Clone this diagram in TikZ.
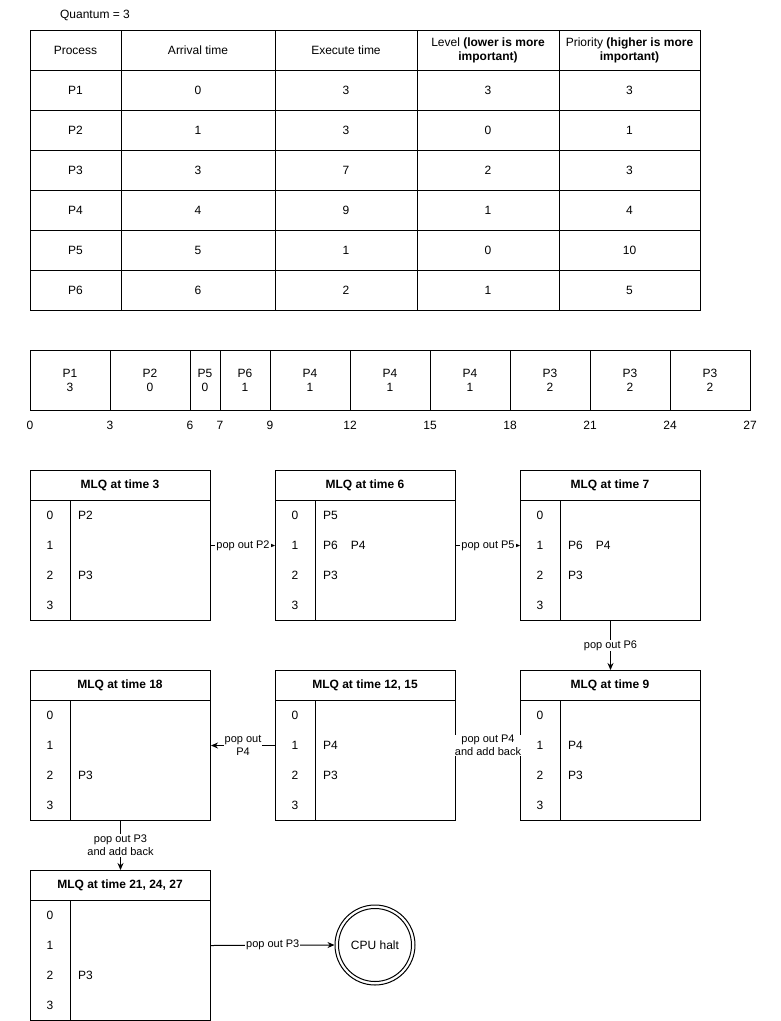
\documentclass[tikz,border=0pt]{standalone}
\usepackage{fontspec}
\setmainfont{Liberation Sans}
\usetikzlibrary{arrows.meta,calc}
\newcommand\mlqbox[8]{%
  \node[box, minimum width=180pt, minimum height=150pt, anchor=north west] (#1) at (#2,#3) {};
  \node[txt, font=\fontsize{12}{14}\selectfont\bfseries] (#1-t) at (#2+90,#3+15) {#4};
  \draw[ln] (#2,#3+30) -- (#2+180,#3+30);
  \draw[ln] (#2+40,#3+30) -- (#2+40,#3+150);
  \node[txt] (#1-i0) at (#2+20,#3+45) {0};
  \node[txt] (#1-i1) at (#2+20,#3+75) {1};
  \node[txt] (#1-i2) at (#2+20,#3+105) {2};
  \node[txt] (#1-i3) at (#2+20,#3+135) {3};
  \node[txt, anchor=west] (#1-c0) at (#2+48,#3+45) {#5};
  \node[txt, anchor=west] (#1-c1) at (#2+48,#3+75) {#6};
  \node[txt, anchor=west] (#1-c2) at (#2+48,#3+105) {#7};
  \node[txt, anchor=west] (#1-c3) at (#2+48,#3+135) {#8};
}
\begin{document}
\begin{tikzpicture}[x=1pt,y=-1pt,
  txt/.style={font=\fontsize{12}{14}\selectfont, inner sep=0pt, align=center},
  ln/.style={line width=1pt},
  box/.style={draw, line width=1pt, inner sep=0pt},
  cell/.style={draw, line width=1pt, inner sep=0pt, align=center, font=\fontsize{12}{14}\selectfont, minimum height=40pt},
  gcell/.style={draw, line width=1pt, inner sep=0pt, align=center, font=\fontsize{12}{14}\selectfont, minimum height=60pt},
  lbl/.style={font=\fontsize{11}{13}\selectfont, fill=white, inner sep=1pt, align=center},
  arr/.style={line width=1pt, -{Stealth[length=7pt,width=6pt]}}]
\useasboundingbox (0,0) rectangle (781,1021);

\node[txt] (quantum) at (95,15) {Quantum = 3};

% table header
\node[cell, minimum width=91pt]  (h1) at (75.5,50) {Process};
\node[cell, minimum width=154pt] (h2) at (198,50) {Arrival time};
\node[cell, minimum width=142pt] (h3) at (346,50) {Execute time};
\node[cell, minimum width=142pt] (h4) at (488,50) {Level \textbf{(lower is more}\\\textbf{important)}};
\node[cell, minimum width=141pt] (h5) at (629.5,50) {Priority \textbf{(higher is more}\\\textbf{important)}};
\foreach \p/\a/\e/\l/\r [count=\i] in {P1/0/3/3/3, P2/1/3/0/1, P3/3/7/2/3, P4/4/9/1/4, P5/5/1/0/10, P6/6/2/1/5}{
  \node[cell, minimum width=91pt]  (r\i c1) at (75.5,50+40*\i) {\p};
  \node[cell, minimum width=154pt] (r\i c2) at (198,50+40*\i) {\a};
  \node[cell, minimum width=142pt] (r\i c3) at (346,50+40*\i) {\e};
  \node[cell, minimum width=142pt] (r\i c4) at (488,50+40*\i) {\l};
  \node[cell, minimum width=141pt] (r\i c5) at (629.5,50+40*\i) {\r};
}

% gantt chart
\foreach \p/\lv/\xa/\xb [count=\i] in {P1/3/30/110, P2/0/110/190, P5/0/190/220, P6/1/220/270, P4/1/270/350, P4/1/350/430, P4/1/430/510, P3/2/510/590, P3/2/590/670, P3/2/670/750}{
  \node[gcell, minimum width={(\xb-\xa)*1pt}] (g\i) at ({(\xa+\xb)/2},380) {\p\\\lv};
}
\foreach \t [count=\i] in {0,3,6,7,9,12,15,18,21,24,27}{
  \pgfmathsetmacro\tx{30+\t*80/3}
  \pgfmathsetmacro\tx{\t==6 ? 190 : (\t==7 ? 220 : (\t==9 ? 270 : \tx))}
  \node[txt] (tm\i) at (\tx,425) {\t};
}

% MLQ boxes
\mlqbox{b3}{30}{470}{MLQ at time 3}{P2}{}{P3}{}
\mlqbox{b6}{275}{470}{MLQ at time 6}{P5}{P6\hspace{13pt}P4}{P3}{}
\mlqbox{b7}{520}{470}{MLQ at time 7}{}{P6\hspace{13pt}P4}{P3}{}
\mlqbox{b18}{30}{670}{MLQ at time 18}{}{}{P3}{}
\mlqbox{b12}{275}{670}{MLQ at time 12, 15}{}{P4}{P3}{}
\mlqbox{b9}{520}{670}{MLQ at time 9}{}{P4}{P3}{}
\mlqbox{b21}{30}{870}{MLQ at time 21, 24, 27}{}{}{P3}{}

\node[circle, draw, line width=1pt, minimum size=80pt, inner sep=0pt] (halt) at (375,945) {};
\draw[line width=1pt] (halt.center) circle (36.5);
\node[txt] (halt-t) at (halt.center) {CPU halt};

% connectors
\draw[arr] (b3.east) -- node[lbl] (l1) {pop out P2} (b6.west);
\draw[arr] (b6.east) -- node[lbl] (l2) {pop out P5} (b7.west);
\draw[arr] (b7.south) -- node[lbl] (l3) {pop out P6} (b9.north);
\draw[arr] (b9.west) -- node[lbl, inner sep=0pt] (l4) {pop out P4\\and add back} (b12.east);
\draw[arr] (b12.west) -- node[lbl] (l5) {pop out\\P4} (b18.east);
\draw[arr] (b18.south) -- node[lbl] (l6) {pop out P3\\and add back} (b21.north);
\draw[arr] (b21.east) -- node[lbl, pos=0.5] (l7) {pop out P3} (halt.west);
\end{tikzpicture}
\end{document}
